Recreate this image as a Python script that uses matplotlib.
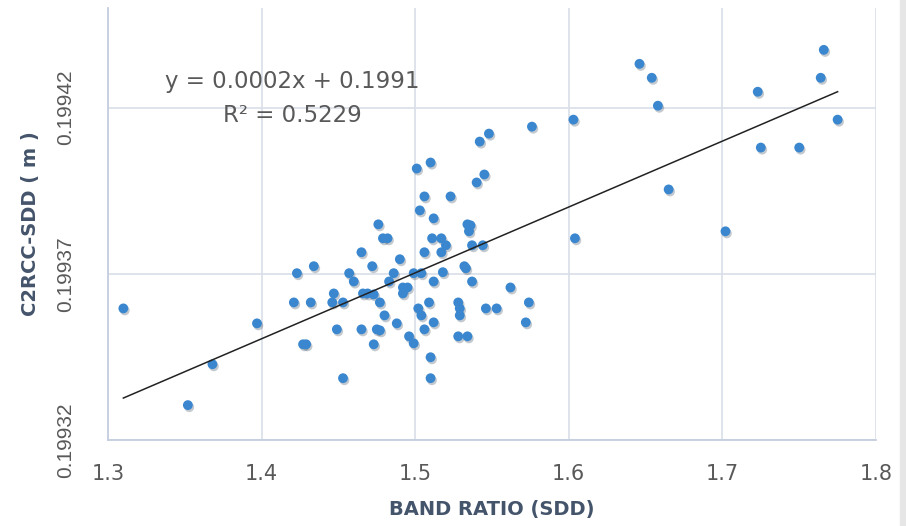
import numpy as np
import matplotlib
matplotlib.use("Agg")
import matplotlib.pyplot as plt
import matplotlib.patheffects as pe
from matplotlib.patches import Rectangle

# band ratio vs C2RCC secchi depth
band_ratio = [
    1.310, 1.352, 1.368, 1.397, 1.421, 1.423, 1.427, 1.429, 1.432, 1.434,
    1.446, 1.447, 1.449, 1.453, 1.453, 1.457, 1.460, 1.465, 1.465, 1.466,
    1.469, 1.473, 1.473, 1.475, 1.477, 1.476, 1.479, 1.482, 1.472, 1.477,
    1.480, 1.483, 1.486, 1.488, 1.490, 1.492, 1.495, 1.492, 1.499, 1.504,
    1.502, 1.504, 1.496, 1.499, 1.506, 1.512, 1.509, 1.512, 1.518, 1.506,
    1.517, 1.511, 1.517, 1.520, 1.512, 1.503, 1.506, 1.523, 1.501, 1.510,
    1.540, 1.545, 1.542, 1.548, 1.528, 1.529, 1.529, 1.528, 1.534, 1.532,
    1.533, 1.537, 1.534, 1.536, 1.535, 1.537, 1.544, 1.510, 1.510, 1.546,
    1.553, 1.562, 1.574, 1.572, 1.576, 1.603, 1.604, 1.646, 1.654, 1.658,
    1.665, 1.702, 1.723, 1.725, 1.750, 1.764, 1.766, 1.775,
]
c2rcc_sdd = [
    0.1993596, 0.1993305, 0.1993428, 0.1993551, 0.1993614, 0.1993702, 0.1993488, 0.1993488, 0.1993614, 0.1993723,
    0.1993614, 0.1993641, 0.1993533, 0.1993386, 0.1993614, 0.1993702, 0.1993677, 0.1993765, 0.1993533, 0.1993641,
    0.1993641, 0.1993638, 0.1993488, 0.1993533, 0.1993530, 0.1993849, 0.1993807, 0.1993807, 0.1993723, 0.1993614,
    0.1993575, 0.1993677, 0.1993702, 0.1993551, 0.1993744, 0.1993659, 0.1993659, 0.1993641, 0.1993702, 0.1993702,
    0.1993596, 0.1993575, 0.1993512, 0.1993491, 0.1993533, 0.1993554, 0.1993614, 0.1993677, 0.1993705, 0.1993765,
    0.1993765, 0.1993807, 0.1993807, 0.1993786, 0.1993867, 0.1993891, 0.1993933, 0.1993933, 0.1994017, 0.1994035,
    0.1993975, 0.1993999, 0.1994098, 0.1994122, 0.1993614, 0.1993596, 0.1993575, 0.1993512, 0.1993512, 0.1993723,
    0.1993717, 0.1993677, 0.1993849, 0.1993846, 0.1993828, 0.1993786, 0.1993786, 0.1993449, 0.1993386, 0.1993596,
    0.1993596, 0.1993659, 0.1993614, 0.1993554, 0.1994143, 0.1994164, 0.1993807, 0.1994332, 0.1994290, 0.1994206,
    0.1993954, 0.1993828, 0.1994248, 0.1994080, 0.1994080, 0.1994290, 0.1994374, 0.1994164,
]
eq_text = "y = 0.0002x + 0.1991"
r2_text = "R\u00b2 = 0.5229"

x_ticks = [1.3, 1.4, 1.5, 1.6, 1.7, 1.8]
y_ticks = [0.19932, 0.19937, 0.19942]

x = np.array(band_ratio)
y = np.array(c2rcc_sdd)

fig = plt.figure(figsize=(9.06, 5.26), dpi=100)
ax = fig.add_axes([0.1192, 0.1635, 0.8477, 0.8213])

grid_col = "#D9DEE8"
text_col = "#595959"
title_col = "#44546A"

ax.scatter(x, y, s=50, color="#3A87CF", zorder=3, linewidths=0,
           path_effects=[pe.SimplePatchShadow(offset=(1, -1.5), alpha=0.25), pe.Normal()])

# linear trendline
slope, intercept = np.polyfit(x, y, 1)
xl = np.array([x.min(), x.max()])
ax.plot(xl, slope * xl + intercept, color="#222222", lw=1.1, zorder=4)

ax.text(0.24, 0.829, eq_text, transform=ax.transAxes, ha="center", va="center",
        fontsize=16.5, color=text_col)
ax.text(0.24, 0.752, r2_text, transform=ax.transAxes, ha="center", va="center",
        fontsize=16.5, color=text_col)

ax.set_xlim(1.3, 1.8)
ax.set_ylim(0.19932, 0.19945)
ax.set_xticks(x_ticks)
ax.set_xticklabels([f"{v:.1f}" for v in x_ticks], fontsize=15, color=text_col)
ax.set_yticks(y_ticks)
ax.set_yticklabels([f"{v:.5f}" for v in y_ticks], fontsize=15, color=text_col,
                   rotation=90, va="center", family="Liberation Sans")
ax.tick_params(axis="both", length=0)
ax.tick_params(axis="x", pad=17)
ax.tick_params(axis="y", pad=24)

ax.grid(True, color=grid_col, lw=1.2)
ax.set_axisbelow(True)
for side in ["top", "right"]:
    ax.spines[side].set_visible(False)
for side in ["left", "bottom"]:
    ax.spines[side].set_color("#C5CEDF")
    ax.spines[side].set_linewidth(1.3)

ax.set_xlabel("BAND RATIO (SDD)", fontsize=14, fontweight="bold", color=title_col, labelpad=12)
ax.set_ylabel("C2RCC-SDD ( m )", fontsize=14, fontweight="bold", color=title_col, labelpad=11)

# grey strip on the right edge
fig.patches.append(Rectangle((900 / 906, 0), 6 / 906, 1, transform=fig.transFigure,
                             color="#E6E6E6", zorder=0))

fig.savefig("out.png", dpi=100, facecolor="white")
